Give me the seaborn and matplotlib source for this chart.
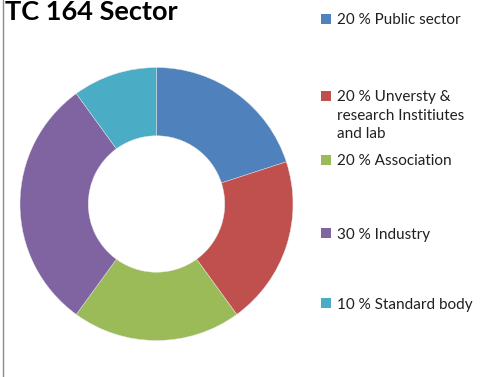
import matplotlib
matplotlib.use("Agg")
import matplotlib.pyplot as plt
from matplotlib.patches import Rectangle
from matplotlib.lines import Line2D
import seaborn as sns

# Membership shares by sector
sectors = ["Public sector", "Unversty &\nresearch Institiutes\nand lab",
           "Association", "Industry", "Standard body"]
shares = [20, 20, 20, 30, 10]
colors = ["#4F81BD", "#C0504D", "#9BBB59", "#8064A2", "#4BACC6"]
title = "TC 164 Sector"

sns.set_theme(style="white")
plt.rcParams["font.family"] = ["Lato", "DejaVu Sans"]
palette = sns.color_palette(colors)

W, H = 490, 377
fig = plt.figure(figsize=(W / 100, H / 100), dpi=100)

# Donut placed so it sits on the left part of the canvas
cx, cy, r = 156.5, 204, 136.5
ax = fig.add_axes([(cx - r) / W, (H - cy - r) / H, 2 * r / W, 2 * r / H])
wedges, _ = ax.pie(shares, colors=palette, startangle=90, counterclock=False,
                   radius=1.0,
                   wedgeprops=dict(width=0.5, edgecolor="#e8e8e8", linewidth=0.3))
ax.set_xlim(-1, 1)
ax.set_ylim(-1, 1)
ax.set_axis_off()

fig.text(5 / W, 1 - 20 / H, title, fontsize=19.5, fontweight="bold",
         color="black", ha="left", va="baseline")

# Legend entries, first-line centre y in pixels
entry_y = [19, 96, 160, 233, 303]
for wedge, name, pct, y in zip(wedges, sectors, shares, entry_y):
    fig.patches.append(Rectangle((321 / W, 1 - (y + 5) / H), 10 / W, 10 / H,
                                 transform=fig.transFigure,
                                 facecolor=wedge.get_facecolor(),
                                 edgecolor="none"))
    fig.text(337 / W, 1 - (y - 5.5) / H, f"{pct} % {name}", fontsize=11,
             color="#202020", ha="left", va="top", linespacing=1.38)

# Thin frame edge on the left
fig.add_artist(Line2D([2.5 / W, 2.5 / W], [0, 1], transform=fig.transFigure,
                      color="#8c8c8c", linewidth=1.0))

fig.savefig("out.png", dpi=100)
